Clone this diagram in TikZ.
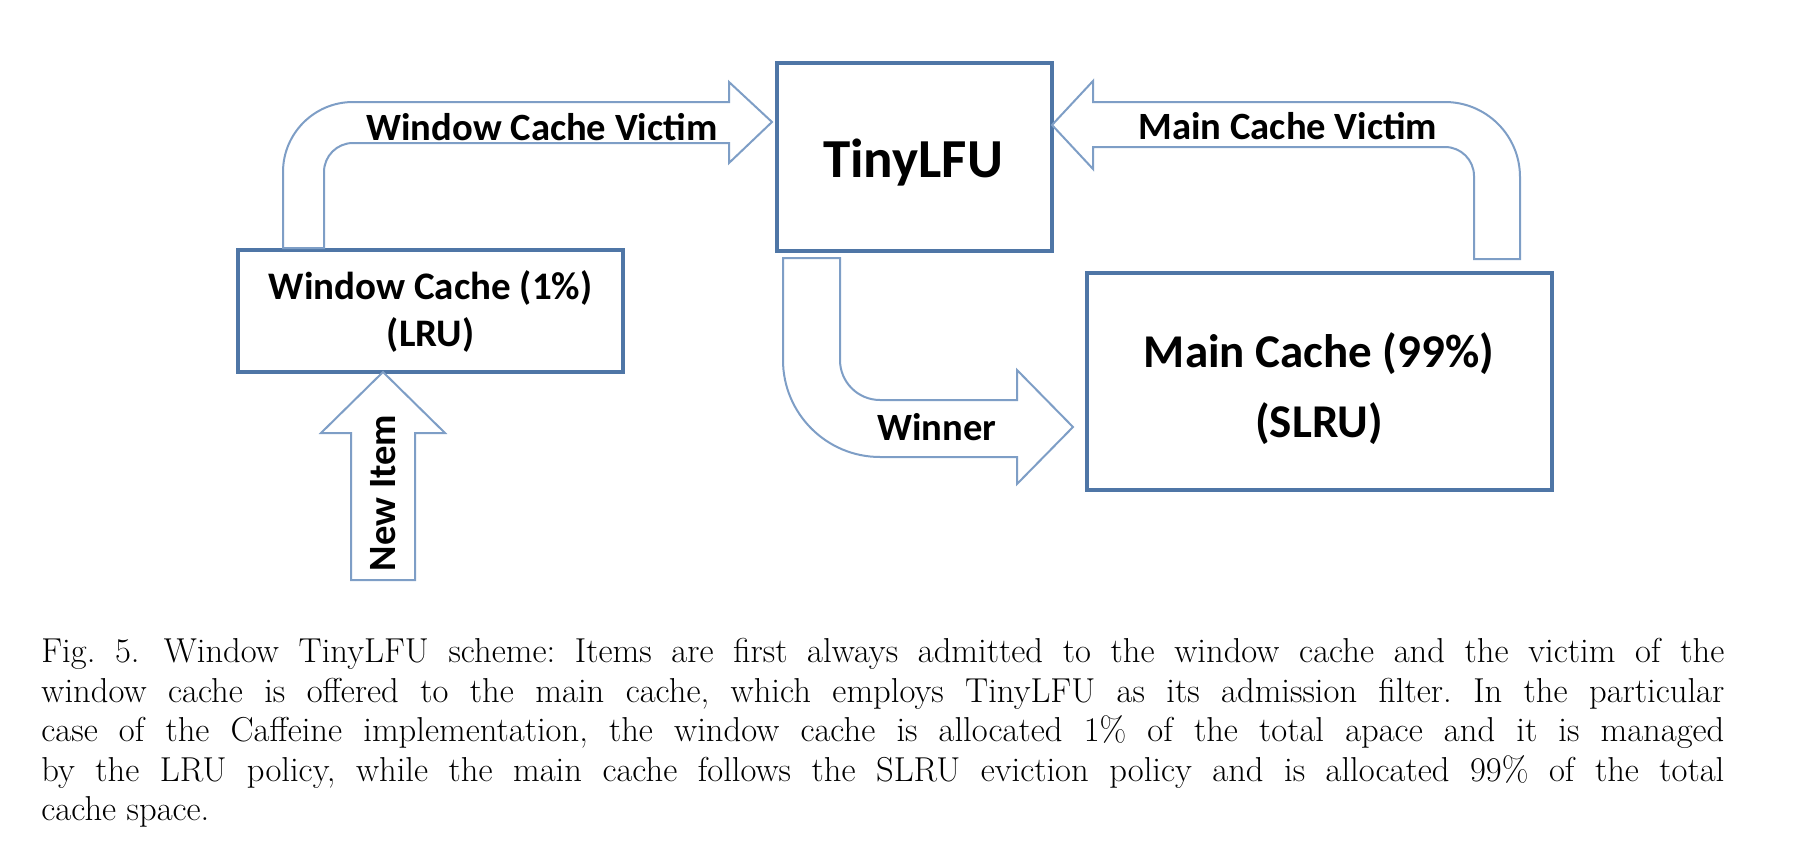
\documentclass[tikz,border=0pt]{standalone}
\usepackage{fontspec}
\newfontfamily\calibri{Carlito}
\definecolor{boxblue}{HTML}{4F76A6}
\definecolor{arrowblue}{HTML}{7E9EC6}
\begin{document}
\begin{tikzpicture}[x=0.5pt,y=-0.5pt,
  cbox/.style={draw=boxblue,line width=2.4pt,fill=white,inner sep=0pt},
  barrow/.style={draw=arrowblue,line width=1pt,fill=white,line join=miter},
  lbl/.style={font=\calibri\bfseries\fontsize{19.3pt}{22pt}\selectfont,inner sep=0pt,anchor=base},
]
\useasboundingbox (0,0) rectangle (1800,846);
% boxes
\node[cbox,minimum width=192.5pt,minimum height=61pt] (win) at (430.5,311) {};
\node[cbox,minimum width=137.5pt,minimum height=94pt] (tiny) at (914.5,157) {};
\node[cbox,minimum width=232.5pt,minimum height=108.5pt] (main) at (1319.5,381.5) {};
\node[font=\calibri\bfseries\fontsize{19.5pt}{23.5pt}\selectfont,align=center,inner sep=0pt] (wintext) at (win.center) {Window Cache (1\%)\\(LRU)};
\node[font=\calibri\bfseries\fontsize{27.5pt}{30pt}\selectfont,inner sep=0pt,anchor=base] (tinytext) at (913,177) {TinyLFU};
\node[font=\calibri\bfseries\fontsize{23.5pt}{35pt}\selectfont,align=center,inner sep=0pt] (maintext) at (1319,389) {Main Cache (99\%)\\(SLRU)};
% block arrows
\draw[barrow] (283,248) -- (283,172) arc[start angle=180,end angle=90,radius=35pt]
  -- (729,102) -- (729,82) -- (772,122) -- (729,163) -- (729,143) -- (353,143)
  arc[start angle=90,end angle=180,radius=14.5pt] -- (324,248) -- cycle;
\draw[barrow] (1520,259) -- (1520,177) arc[start angle=0,end angle=90,radius=37.5pt]
  -- (1093,102) -- (1093,81) -- (1052,125) -- (1093,169) -- (1093,147) -- (1445,147)
  arc[start angle=90,end angle=0,radius=14.5pt] -- (1474,259) -- cycle;
\draw[barrow] (783,258) -- (783,360) arc[start angle=180,end angle=270,radius=48.5pt]
  -- (1017,457) -- (1017,484) -- (1073,427) -- (1017,370) -- (1017,400) -- (880,400)
  arc[start angle=270,end angle=180,radius=20pt] -- (840,258) -- cycle;
\draw[barrow] (383,372) -- (445,433) -- (415,433) -- (415,580) -- (351,580) -- (351,433) -- (321,433) -- cycle;
% arrow labels
\node[lbl] (wcv) at (542,140) {Window Cache Victim};
\node[lbl] (mcv) at (1288,139) {Main Cache Victim};
\node[lbl] (winner) at (937,440) {Winner};
\node[lbl,anchor=center,rotate=90] (newitem) at (383,493) {New Item};
% caption
\node[anchor=north west,inner sep=0pt,text width=841.5pt,align=justify,
  font=\fontsize{17.3pt}{19.75pt}\selectfont\frenchspacing] (caption) at (41,638)
{Fig.~5.\hspace*{0.7em}Window TinyLFU scheme: Items are first always admitted to the window cache and the victim of the\linebreak
window cache is offered to the main cache, which employs TinyLFU as its admission filter. In the particular\linebreak
case of the Caffeine implementation, the window cache is allocated 1\% of the total apace and it is managed\linebreak
by the LRU policy, while the main cache follows the SLRU eviction policy and is allocated 99\% of the total\linebreak
cache space.};
\end{tikzpicture}
\end{document}
